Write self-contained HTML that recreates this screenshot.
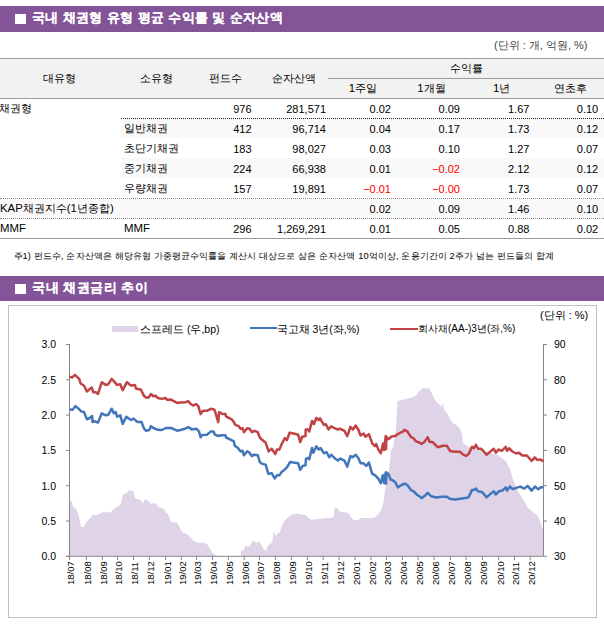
<!DOCTYPE html><html><head><meta charset="utf-8"><style>
*{margin:0;padding:0;box-sizing:border-box}
html,body{width:604px;height:624px;overflow:hidden;background:#fff}
body{position:relative;font-family:"Liberation Sans", sans-serif;color:#000}
.a{position:absolute;white-space:nowrap;line-height:1}
.bar{position:absolute;left:0;width:604px;background:#845498}
.sq{position:absolute;background:#fff}
.tt{position:absolute;color:#fff;font-weight:bold;font-size:13px;line-height:1;white-space:nowrap;-webkit-text-stroke:0.1px #fff}
.hl{position:absolute;height:1px;background:#9a9a9a}
.dl{position:absolute;height:1px;border-top:1px dotted #222}
.c{text-align:center}
.r{text-align:right}
.t{font-size:12px}
</style></head><body><div class="bar" style="top:6px;height:26px"></div>
<div class="sq" style="left:15px;top:14px;width:11px;height:10px"></div>
<div class="tt" style="left:32px;top:10.6px;letter-spacing:0.37px">국내 채권형 유형 평균 수익률 및 순자산액</div>
<div class="a" style="left:494px;top:39.5px;font-size:11px;color:#444">(단위 : 개, 억원, %)</div>
<div style="position:absolute;left:0;top:59px;width:604px;height:39px;background:#f2f2f2"></div>
<div class="hl" style="left:0;top:58px;width:604px"></div>
<div class="hl" style="left:328px;top:78px;width:276px"></div>
<div class="hl" style="left:0;top:98px;width:604px"></div>
<div style="position:absolute;left:121px;top:119px;width:483px;height:19px;background:#f9f9f9"></div>
<div style="position:absolute;left:121px;top:158px;width:483px;height:20px;background:#f9f9f9"></div>
<div style="position:absolute;left:0;top:199px;width:604px;height:19px;background:#f9f9f9"></div>
<div class="dl" style="left:121px;top:118px;width:483px"></div>
<div class="dl" style="left:0;top:198px;width:604px;border-top-color:#8c8c8c"></div>
<div class="dl" style="left:0;top:218px;width:604px;border-top-color:#8c8c8c"></div>
<div class="hl" style="left:0;top:238px;width:604px"></div>
<div class="a c" style="left:-1px;width:120px;top:73px;font-size:11.4px;">대유형</div>
<div class="a c" style="left:96px;width:120px;top:73px;font-size:11.4px;">소유형</div>
<div class="a c" style="left:165.5px;width:120px;top:73px;font-size:11.4px;">펀드수</div>
<div class="a c" style="left:234px;width:120px;top:73px;font-size:11.4px;">순자산액</div>
<div class="a c" style="left:406.5px;width:120px;top:63px;font-size:11.4px;">수익률</div>
<div class="a c" style="left:303px;width:120px;top:83px;font-size:11.4px;">1주일</div>
<div class="a c" style="left:371.5px;width:120px;top:83px;font-size:11.4px;">1개월</div>
<div class="a c" style="left:441.7px;width:120px;top:83px;font-size:11.4px;">1년</div>
<div class="a c" style="left:510.4px;width:120px;top:83px;font-size:11.4px;">연초후</div>
<div class="a" style="left:-1px;top:103px;font-size:11.4px;">채권형</div>
<div class="a r" style="left:101.5px;width:150px;top:103.5px;font-size:11px;">976</div>
<div class="a r" style="left:176px;width:150px;top:103.5px;font-size:11px;">281,571</div>
<div class="a r" style="left:241px;width:150px;top:103.5px;font-size:11px;">0.02</div>
<div class="a r" style="left:310px;width:150px;top:103.5px;font-size:11px;">0.09</div>
<div class="a r" style="left:379.5px;width:150px;top:103.5px;font-size:11px;">1.67</div>
<div class="a r" style="left:448.20000000000005px;width:150px;top:103.5px;font-size:11px;">0.10</div>
<div class="a" style="left:124px;top:123px;font-size:11.4px;">일반채권</div>
<div class="a r" style="left:101.5px;width:150px;top:123.5px;font-size:11px;">412</div>
<div class="a r" style="left:176px;width:150px;top:123.5px;font-size:11px;">96,714</div>
<div class="a r" style="left:241px;width:150px;top:123.5px;font-size:11px;">0.04</div>
<div class="a r" style="left:310px;width:150px;top:123.5px;font-size:11px;">0.17</div>
<div class="a r" style="left:379.5px;width:150px;top:123.5px;font-size:11px;">1.73</div>
<div class="a r" style="left:448.20000000000005px;width:150px;top:123.5px;font-size:11px;">0.12</div>
<div class="a" style="left:124px;top:143px;font-size:11.4px;">초단기채권</div>
<div class="a r" style="left:101.5px;width:150px;top:143.5px;font-size:11px;">183</div>
<div class="a r" style="left:176px;width:150px;top:143.5px;font-size:11px;">98,027</div>
<div class="a r" style="left:241px;width:150px;top:143.5px;font-size:11px;">0.03</div>
<div class="a r" style="left:310px;width:150px;top:143.5px;font-size:11px;">0.10</div>
<div class="a r" style="left:379.5px;width:150px;top:143.5px;font-size:11px;">1.27</div>
<div class="a r" style="left:448.20000000000005px;width:150px;top:143.5px;font-size:11px;">0.07</div>
<div class="a" style="left:124px;top:163px;font-size:11.4px;">중기채권</div>
<div class="a r" style="left:101.5px;width:150px;top:163.5px;font-size:11px;">224</div>
<div class="a r" style="left:176px;width:150px;top:163.5px;font-size:11px;">66,938</div>
<div class="a r" style="left:241px;width:150px;top:163.5px;font-size:11px;">0.01</div>
<div class="a r" style="left:310px;width:150px;top:163.5px;font-size:11px;color:#ff0000;">&minus;0.02</div>
<div class="a r" style="left:379.5px;width:150px;top:163.5px;font-size:11px;">2.12</div>
<div class="a r" style="left:448.20000000000005px;width:150px;top:163.5px;font-size:11px;">0.12</div>
<div class="a" style="left:124px;top:183px;font-size:11.4px;">우량채권</div>
<div class="a r" style="left:101.5px;width:150px;top:183.5px;font-size:11px;">157</div>
<div class="a r" style="left:176px;width:150px;top:183.5px;font-size:11px;">19,891</div>
<div class="a r" style="left:241px;width:150px;top:183.5px;font-size:11px;color:#ff0000;">&minus;0.01</div>
<div class="a r" style="left:310px;width:150px;top:183.5px;font-size:11px;color:#ff0000;">&minus;0.00</div>
<div class="a r" style="left:379.5px;width:150px;top:183.5px;font-size:11px;">1.73</div>
<div class="a r" style="left:448.20000000000005px;width:150px;top:183.5px;font-size:11px;">0.07</div>
<div class="a" style="left:0px;top:203px;font-size:11.4px;">KAP채권지수(1년종합)</div>
<div class="a r" style="left:241px;width:150px;top:203.5px;font-size:11px;">0.02</div>
<div class="a r" style="left:310px;width:150px;top:203.5px;font-size:11px;">0.09</div>
<div class="a r" style="left:379.5px;width:150px;top:203.5px;font-size:11px;">1.46</div>
<div class="a r" style="left:448.20000000000005px;width:150px;top:203.5px;font-size:11px;">0.10</div>
<div class="a" style="left:0px;top:223px;font-size:11.4px;">MMF</div>
<div class="a" style="left:124px;top:223px;font-size:11.4px;">MMF</div>
<div class="a r" style="left:101.5px;width:150px;top:223.5px;font-size:11px;">296</div>
<div class="a r" style="left:176px;width:150px;top:223.5px;font-size:11px;">1,269,291</div>
<div class="a r" style="left:241px;width:150px;top:223.5px;font-size:11px;">0.01</div>
<div class="a r" style="left:310px;width:150px;top:223.5px;font-size:11px;">0.05</div>
<div class="a r" style="left:379.5px;width:150px;top:223.5px;font-size:11px;">0.88</div>
<div class="a r" style="left:448.20000000000005px;width:150px;top:223.5px;font-size:11px;">0.02</div>
<div class="a" style="left:13.5px;top:252px;font-size:9.3px;letter-spacing:0.1px">주1) 펀드수, 순자산액은 해당유형 가중평균수익률을 계산시 대상으로 삼은 순자산액 10억이상, 운용기간이 2주가 넘는 펀드들의 합계</div>
<div class="bar" style="top:276px;height:25px"></div>
<div class="sq" style="left:15px;top:284px;width:11px;height:10px"></div>
<div class="tt" style="left:32px;top:280.8px;letter-spacing:0.5px">국내 채권금리 추이</div>
<svg width="604" height="624" viewBox="0 0 604 624" style="position:absolute;left:0;top:0"><rect x="8.5" y="305.5" width="588" height="312" fill="none" stroke="#bfbfbf" stroke-width="1"/><path d="M69.7,556.0 L69.6,500.6 L71.8,501.5 L73.5,507.3 L75.9,508.4 L78.4,514.7 L80.1,523.0 L81.2,527.1 L83.9,527.1 L85.5,523.0 L88.4,519.7 L91.7,516.4 L92.5,514.7 L98.3,514.7 L102.4,512.2 L110.7,512.2 L113.2,509.7 L117.3,506.4 L120.6,504.8 L123.1,494.0 L126.4,493.2 L128.6,490.2 L133.1,490.7 L135.5,499.0 L139.7,499.5 L141.8,501.5 L142.5,503.9 L144.6,499.5 L148.0,500.6 L151.3,503.9 L155.4,503.1 L157.9,506.4 L163.7,508.9 L166.0,512.7 L167.7,513.9 L169.3,517.2 L171.0,522.2 L176.8,522.6 L179.2,526.3 L182.2,532.6 L186.7,533.7 L190.0,537.1 L193.3,540.4 L196.6,542.5 L204.1,542.8 L207.4,544.5 L209.9,548.6 L212.4,552.8 L215.7,555.3 L216.5,556.0 L240.8,556.0 L241.3,550.3 L243.8,550.3 L245.1,545.8 L249.6,546.5 L252.1,541.2 L255.4,541.5 L257.1,542.8 L259.5,541.5 L262.0,546.2 L264.5,550.3 L266.0,551.1 L267.7,546.2 L270.1,543.7 L272.3,542.8 L273.9,529.6 L275.1,536.2 L277.6,533.7 L280.1,532.1 L281.7,526.3 L284.2,521.3 L287.5,517.7 L291.7,514.7 L295.8,513.4 L305.7,515.0 L308.2,517.7 L311.5,519.7 L320.6,518.8 L325.6,518.0 L329.7,518.3 L333.5,516.9 L334.7,507.7 L338.0,508.4 L339.7,511.4 L348.0,512.7 L350.4,516.4 L353.7,520.0 L357.9,520.0 L360.4,518.0 L366.0,518.0 L371.0,518.3 L375.1,517.2 L378.4,513.9 L381.7,508.9 L383.9,499.8 L385.5,486.6 L386.7,476.6 L389.2,470.0 L390.8,451.2 L393.3,446.2 L395.8,429.7 L397.5,401.5 L398.3,400.7 L404.1,399.5 L411.5,397.4 L415.7,395.7 L419.0,391.6 L422.3,388.3 L428.9,388.3 L431.4,392.4 L433.1,396.6 L435.5,400.7 L438.8,404.0 L441.3,406.5 L443.0,403.2 L443.8,409.8 L447.1,413.1 L450.4,419.7 L452.9,423.0 L457.1,425.5 L460.4,429.7 L462.0,434.6 L462.9,442.9 L468.5,446.7 L481.0,450.8 L497.7,455.0 L506.0,461.3 L510.2,469.6 L513.3,480.0 L518.5,492.5 L522.7,498.8 L527.9,508.1 L533.1,512.3 L537.3,515.4 L540.4,521.7 L542.5,527.9 L543.1,530.0 L543.5,530.0 L543.5,556.0 Z" fill="#dfd3e7" stroke="none"/><path d="M69.5,344 V556 M66,344.5 H69.5 M66,379.8 H69.5 M66,415.1 H69.5 M66,450.4 H69.5 M66,485.7 H69.5 M66,521 H69.5 M66,556.3 H69.5" stroke="#868686" stroke-width="1" fill="none"/><path d="M543.5,344 V556 M543.5,344.5 H547 M543.5,379.8 H547 M543.5,415.1 H547 M543.5,450.4 H547 M543.5,485.7 H547 M543.5,521 H547 M543.5,556.3 H547" stroke="#868686" stroke-width="1" fill="none"/><path d="M66,556.3 H543.5 M69.6,556 V560 M86.3,556 V560 M102.3,556 V560 M117.6,556 V560 M133.5,556 V560 M149.4,556 V560 M165.7,556 V560 M181.3,556 V560 M196.5,556 V560 M212.4,556 V560 M228.3,556 V560 M244.2,556 V560 M259.5,556 V560 M275.4,556 V560 M291.3,556 V560 M307.3,556 V560 M323.2,556 V560 M339.1,556 V560 M355.0,556 V560 M370.9,556 V560 M386.4,556 V560 M402.3,556 V560 M418.1,556 V560 M434.1,556 V560 M450.3,556 V560 M466.1,556 V560 M482.3,556 V560 M498.7,556 V560 M514.5,556 V560 M530.2,556 V560" stroke="#868686" stroke-width="1" fill="none"/><path d="M69.7,409.4 L72.6,409.8 L75.5,406.1 L78.6,408.7 L81.2,411.4 L83.9,412.0 L86.9,419.3 L89.8,418.0 L92.2,416.0 L92.5,422.0 L95.1,421.3 L98.0,422.6 L101.8,413.3 L105.7,415.3 L108.4,414.7 L111.7,408.7 L113.7,413.3 L115.7,412.0 L117.0,416.7 L120.3,415.3 L122.7,423.9 L126.3,416.7 L130.9,420.0 L133.5,418.6 L137.5,422.0 L141.5,422.0 L144.1,428.6 L146.0,430.7 L149.3,430.0 L151.0,426.1 L153.3,428.0 L157.9,429.8 L161.9,430.0 L165.9,428.0 L171.2,428.0 L177.1,430.7 L180.4,430.0 L185.1,428.7 L188.4,427.1 L191.7,429.4 L196.3,428.7 L199.0,431.4 L200.6,437.3 L202.3,435.1 L206.9,434.7 L210.9,431.4 L213.5,431.4 L214.9,434.7 L218.2,436.0 L221.5,435.3 L225.5,435.3 L226.0,437.5 L230.0,439.4 L233.9,441.4 L234.6,445.4 L237.9,448.0 L240.6,451.4 L242.6,450.7 L243.9,455.3 L247.2,451.4 L249.2,452.4 L251.8,456.0 L254.5,454.7 L257.8,455.3 L259.8,462.0 L262.4,463.9 L265.7,464.6 L268.4,473.9 L271.7,473.2 L274.7,478.5 L277.0,475.2 L279.6,475.2 L281.6,471.9 L284.3,469.9 L286.9,467.3 L290.2,462.0 L293.5,462.6 L298.2,463.3 L300.2,469.9 L302.8,465.9 L305.5,465.3 L306.0,458.6 L308.0,458.0 L309.3,459.3 L312.0,448.0 L313.3,452.7 L316.3,446.3 L318.6,449.4 L320.6,448.0 L323.9,453.3 L326.5,452.0 L329.2,457.3 L331.2,454.7 L335.1,458.6 L337.8,460.6 L340.4,458.6 L344.4,460.6 L347.3,466.6 L350.4,456.0 L352.6,457.3 L355.7,454.7 L358.3,458.0 L360.6,463.3 L363.6,463.3 L366.3,465.9 L368.9,462.6 L372.2,473.9 L374.9,475.2 L378.2,478.5 L380.8,483.1 L382.8,475.2 L384.1,483.1 L385.7,472.5 L386.0,483.6 L386.5,472.3 L388.6,474.3 L390.6,479.6 L392.6,480.3 L395.3,482.3 L397.9,487.5 L400.6,485.6 L404.5,483.6 L407.2,484.9 L411.2,490.2 L413.8,491.5 L417.1,494.8 L421.8,498.1 L425.1,495.5 L427.7,492.8 L431.0,496.2 L436.3,497.5 L441.6,496.8 L446.9,496.8 L449.6,498.8 L454.9,499.5 L460.2,498.8 L465.5,498.1 L468.6,497.2 L472.0,489.9 L473.9,489.9 L475.9,488.6 L477.9,491.2 L481.9,491.9 L486.5,497.2 L490.5,493.9 L493.8,491.2 L495.8,494.5 L499.1,491.2 L502.4,490.6 L505.7,487.3 L507.1,490.6 L509.7,486.6 L513.0,489.2 L516.3,487.9 L520.3,486.6 L524.3,488.6 L527.6,485.9 L531.6,490.6 L534.9,486.6 L538.2,489.2 L540.8,487.3 L543.5,487.3" fill="none" stroke="#4176bb" stroke-width="2.5" stroke-linejoin="round"/><path d="M69.7,376.7 L72.0,377.6 L75.0,374.9 L79.2,378.9 L80.6,383.5 L83.9,385.5 L86.9,391.5 L89.2,389.5 L91.8,387.5 L93.2,392.2 L95.8,392.2 L98.0,393.9 L101.8,382.2 L105.7,384.9 L108.4,384.2 L111.7,378.9 L114.3,381.6 L117.0,384.9 L120.3,384.2 L122.7,390.2 L126.9,382.2 L130.9,385.5 L134.9,384.9 L136.2,388.8 L140.8,389.5 L144.1,396.1 L146.0,397.6 L148.6,397.6 L151.0,394.0 L153.3,396.3 L155.3,395.6 L157.9,398.0 L161.9,398.9 L165.2,398.0 L167.2,399.8 L171.2,399.6 L173.8,401.2 L177.1,402.9 L180.4,402.5 L185.7,402.2 L188.4,401.2 L190.4,403.8 L193.0,405.5 L196.3,404.2 L198.3,406.2 L200.6,414.1 L203.0,410.8 L206.9,410.8 L210.9,408.8 L214.2,409.5 L215.5,412.8 L218.2,422.1 L219.1,412.2 L222.8,414.1 L225.5,414.1 L226.0,416.3 L229.3,418.2 L232.0,419.6 L233.9,422.2 L235.3,424.9 L238.6,426.2 L240.6,428.8 L242.6,428.2 L243.9,432.2 L247.2,428.2 L249.8,428.8 L251.8,432.2 L254.5,430.8 L257.8,432.2 L259.8,437.5 L262.4,440.1 L265.7,442.7 L268.6,451.4 L271.7,448.7 L275.3,454.0 L277.0,449.4 L279.6,449.4 L281.6,444.1 L284.9,438.1 L286.9,440.1 L289.6,432.8 L293.5,433.5 L298.2,434.8 L300.2,442.1 L302.2,436.8 L305.5,436.1 L305.7,429.5 L308.0,429.5 L309.3,431.5 L312.0,420.9 L313.9,424.2 L316.3,418.0 L318.6,420.2 L319.9,418.2 L321.9,421.6 L323.9,424.9 L325.9,424.2 L328.5,429.5 L331.2,426.2 L334.5,428.2 L337.8,429.5 L339.8,428.6 L344.4,430.8 L347.3,436.1 L350.4,426.9 L353.0,429.5 L355.7,425.5 L358.3,429.5 L360.6,435.5 L363.6,433.5 L365.6,436.8 L368.9,434.1 L372.2,443.4 L374.9,446.1 L376.2,444.1 L378.2,449.4 L380.8,453.3 L383.1,443.4 L384.1,450.0 L385.7,436.1 L386.0,449.1 L386.5,437.2 L388.6,439.2 L391.3,436.6 L395.3,435.9 L399.2,433.2 L402.6,431.9 L404.5,429.9 L407.2,431.3 L411.2,437.2 L413.8,438.5 L415.8,441.2 L419.1,442.5 L421.8,443.8 L424.4,441.9 L427.7,437.2 L429.7,441.9 L432.4,441.9 L435.0,444.5 L437.7,447.2 L443.0,445.8 L446.9,445.8 L450.2,451.1 L454.9,451.8 L460.2,451.8 L462.8,454.4 L466.0,456.0 L468.6,454.1 L472.0,446.9 L473.9,448.2 L475.9,444.9 L477.9,448.8 L481.2,448.8 L483.2,450.8 L486.5,454.8 L490.5,451.5 L493.8,448.8 L495.8,452.8 L498.5,449.5 L501.8,450.8 L505.7,446.9 L507.1,450.8 L509.0,448.2 L512.4,451.5 L516.3,453.5 L519.0,452.8 L522.3,455.5 L526.9,455.5 L531.6,460.8 L534.9,457.5 L537.5,460.1 L540.2,459.4 L543.2,461.4" fill="none" stroke="#c04245" stroke-width="2.5" stroke-linejoin="round"/><text x="56" y="348.3" text-anchor="end" font-family='"Liberation Sans", sans-serif' font-size="10.5">3.0</text><text x="56" y="383.6" text-anchor="end" font-family='"Liberation Sans", sans-serif' font-size="10.5">2.5</text><text x="56" y="418.9" text-anchor="end" font-family='"Liberation Sans", sans-serif' font-size="10.5">2.0</text><text x="56" y="454.2" text-anchor="end" font-family='"Liberation Sans", sans-serif' font-size="10.5">1.5</text><text x="56" y="489.5" text-anchor="end" font-family='"Liberation Sans", sans-serif' font-size="10.5">1.0</text><text x="56" y="524.8" text-anchor="end" font-family='"Liberation Sans", sans-serif' font-size="10.5">0.5</text><text x="56" y="560.1" text-anchor="end" font-family='"Liberation Sans", sans-serif' font-size="10.5">0.0</text><text x="554" y="348.3" font-family='"Liberation Sans", sans-serif' font-size="10.5">90</text><text x="554" y="383.6" font-family='"Liberation Sans", sans-serif' font-size="10.5">80</text><text x="554" y="418.9" font-family='"Liberation Sans", sans-serif' font-size="10.5">70</text><text x="554" y="454.2" font-family='"Liberation Sans", sans-serif' font-size="10.5">60</text><text x="554" y="489.5" font-family='"Liberation Sans", sans-serif' font-size="10.5">50</text><text x="554" y="524.8" font-family='"Liberation Sans", sans-serif' font-size="10.5">40</text><text x="554" y="560.1" font-family='"Liberation Sans", sans-serif' font-size="10.5">30</text><text transform="translate(74.4,585) rotate(-90)" font-family='"Liberation Sans", sans-serif' font-size="9.5">18/07</text><text transform="translate(91.1,585) rotate(-90)" font-family='"Liberation Sans", sans-serif' font-size="9.5">18/08</text><text transform="translate(107.1,585) rotate(-90)" font-family='"Liberation Sans", sans-serif' font-size="9.5">18/09</text><text transform="translate(122.4,585) rotate(-90)" font-family='"Liberation Sans", sans-serif' font-size="9.5">18/10</text><text transform="translate(138.3,585) rotate(-90)" font-family='"Liberation Sans", sans-serif' font-size="9.5">18/11</text><text transform="translate(154.2,585) rotate(-90)" font-family='"Liberation Sans", sans-serif' font-size="9.5">18/12</text><text transform="translate(170.5,585) rotate(-90)" font-family='"Liberation Sans", sans-serif' font-size="9.5">19/01</text><text transform="translate(186.1,585) rotate(-90)" font-family='"Liberation Sans", sans-serif' font-size="9.5">19/02</text><text transform="translate(201.3,585) rotate(-90)" font-family='"Liberation Sans", sans-serif' font-size="9.5">19/03</text><text transform="translate(217.2,585) rotate(-90)" font-family='"Liberation Sans", sans-serif' font-size="9.5">19/04</text><text transform="translate(233.1,585) rotate(-90)" font-family='"Liberation Sans", sans-serif' font-size="9.5">19/05</text><text transform="translate(249.0,585) rotate(-90)" font-family='"Liberation Sans", sans-serif' font-size="9.5">19/06</text><text transform="translate(264.3,585) rotate(-90)" font-family='"Liberation Sans", sans-serif' font-size="9.5">19/07</text><text transform="translate(280.2,585) rotate(-90)" font-family='"Liberation Sans", sans-serif' font-size="9.5">19/08</text><text transform="translate(296.1,585) rotate(-90)" font-family='"Liberation Sans", sans-serif' font-size="9.5">19/09</text><text transform="translate(312.1,585) rotate(-90)" font-family='"Liberation Sans", sans-serif' font-size="9.5">19/10</text><text transform="translate(328.0,585) rotate(-90)" font-family='"Liberation Sans", sans-serif' font-size="9.5">19/11</text><text transform="translate(343.9,585) rotate(-90)" font-family='"Liberation Sans", sans-serif' font-size="9.5">19/12</text><text transform="translate(359.8,585) rotate(-90)" font-family='"Liberation Sans", sans-serif' font-size="9.5">20/01</text><text transform="translate(375.7,585) rotate(-90)" font-family='"Liberation Sans", sans-serif' font-size="9.5">20/02</text><text transform="translate(391.2,585) rotate(-90)" font-family='"Liberation Sans", sans-serif' font-size="9.5">20/03</text><text transform="translate(407.1,585) rotate(-90)" font-family='"Liberation Sans", sans-serif' font-size="9.5">20/04</text><text transform="translate(422.9,585) rotate(-90)" font-family='"Liberation Sans", sans-serif' font-size="9.5">20/05</text><text transform="translate(438.9,585) rotate(-90)" font-family='"Liberation Sans", sans-serif' font-size="9.5">20/06</text><text transform="translate(455.1,585) rotate(-90)" font-family='"Liberation Sans", sans-serif' font-size="9.5">20/07</text><text transform="translate(470.9,585) rotate(-90)" font-family='"Liberation Sans", sans-serif' font-size="9.5">20/08</text><text transform="translate(487.1,585) rotate(-90)" font-family='"Liberation Sans", sans-serif' font-size="9.5">20/09</text><text transform="translate(503.5,585) rotate(-90)" font-family='"Liberation Sans", sans-serif' font-size="9.5">20/10</text><text transform="translate(519.3,585) rotate(-90)" font-family='"Liberation Sans", sans-serif' font-size="9.5">20/11</text><text transform="translate(535.0,585) rotate(-90)" font-family='"Liberation Sans", sans-serif' font-size="9.5">20/12</text></svg>
<div style="position:absolute;left:112px;top:326px;width:26px;height:6px;background:#dfd3e7"></div>
<div class="a" style="left:140px;top:323.5px;font-size:10.5px">스프레드 (우,bp)</div>
<div style="position:absolute;left:250px;top:327px;width:27px;height:2px;background:#4176bb"></div>
<div class="a" style="left:276.5px;top:323.5px;font-size:10.5px">국고채 3년(좌,%)</div>
<div style="position:absolute;left:390px;top:328px;width:28px;height:2px;background:#c04245"></div>
<div class="a" style="left:418px;top:323.8px;font-size:10px">회사채(AA-)3년(좌,%)</div>
<div class="a" style="left:540px;top:310px;font-size:11px">(단위 : %)</div></body></html>
